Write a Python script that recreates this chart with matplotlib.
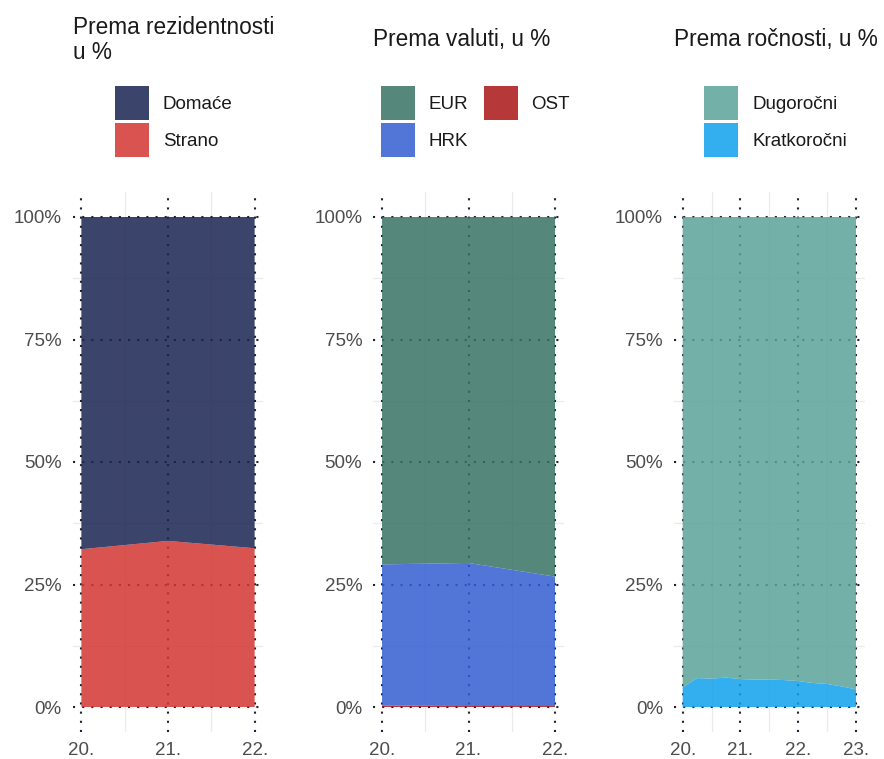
import matplotlib
matplotlib.use("Agg")
import matplotlib.pyplot as plt
from matplotlib.patches import Patch
from matplotlib.transforms import Bbox, TransformedBbox

plt.rcParams['font.family'] = ['Liberation Sans', 'DejaVu Sans']

# ---------------- data ----------------
years_a = [20, 21, 22]
year_labels_a = ["20.", "21.", "22."]
strano = [32.2, 33.9, 32.4]
domace = [67.8, 66.1, 67.6]

years_b = [20, 21, 22]
ost = [0.3, 0.2, 0.2]
hrk = [28.8, 29.2, 26.4]
eur = [70.9, 70.6, 73.4]

years_c = [20.0, 20.25, 20.5, 20.75, 21.0, 21.25, 21.5, 21.75, 22.0, 22.25, 22.5, 22.75, 23.0]
year_labels_c = ["20.", "21.", "22.", "23."]
kratko = [4.0, 5.9, 5.8, 6.0, 5.7, 5.6, 5.6, 5.5, 5.3, 4.9, 4.7, 4.2, 3.6]
dugo = [96.0, 94.1, 94.2, 94.0, 94.3, 94.4, 94.4, 94.5, 94.7, 95.1, 95.3, 95.8, 96.4]

y_ticks = [0, 25, 50, 75, 100]
y_tick_labels = ["0%", "25%", "50%", "75%", "100%"]

# ---------------- style ----------------
ALPHA = 0.85
C_DOMACE = "#192350"
C_STRANO = "#D33531"
C_EUR = "#377363"
C_HRK = "#325ED2"
C_OST = "#A91515"
C_DUGO = "#5BA298"
C_KRATKO = "#0FA0ED"
GRID_MAJ = "#1E2333"
GRID_MIN = "#EBEBEB"
TICK_COL = "#4D4D4D"
TXT_COL = "#1A1A1A"

W, H = 884, 759
fig = plt.figure(figsize=(W / 100, H / 100), dpi=100)

def px_axes(left, right, top, bottom):
    return fig.add_axes([left / W, 1 - bottom / H, (right - left) / W, (bottom - top) / H])

ax1 = px_axes(72.7, 263.3, 192.5, 731.5)
ax2 = px_axes(373.4, 563.7, 192.5, 731.5)
ax3 = px_axes(674.0, 864.7, 192.5, 731.5)

def style_axes(ax, xmin, xmax, xticks, xlabels, xminor):
    ax.set_xlim(xmin - 0.05 * (xmax - xmin), xmax + 0.05 * (xmax - xmin))
    ax.set_ylim(-5, 105)
    for s in ax.spines.values():
        s.set_visible(False)
    ax.set_facecolor("none")
    for yv in [12.5, 37.5, 62.5, 87.5]:
        ax.axhline(yv, color=GRID_MIN, lw=0.9, zorder=0)
    for xv in xminor:
        ax.axvline(xv, color=GRID_MIN, lw=0.9, zorder=0)
    for yv in y_ticks:
        ax.axhline(yv, color=GRID_MAJ, lw=1.5, ls=(0, (1, 3.4)), zorder=1)
    for xv in xticks:
        ax.axvline(xv, color=GRID_MAJ, lw=1.5, ls=(0, (1, 3.4)), zorder=1)
    ax.set_xticks(xticks)
    ax.set_xticklabels(xlabels)
    ax.set_yticks(y_ticks)
    ax.set_yticklabels(y_tick_labels)
    ax.tick_params(length=0, labelsize=13.5, labelcolor=TICK_COL)
    ax.tick_params(axis='y', pad=8)
    ax.tick_params(axis='x', pad=7.5)

style_axes(ax1, 20, 22, years_a, year_labels_a, [20.5, 21.5])
style_axes(ax2, 20, 22, years_b, year_labels_a, [20.5, 21.5])
style_axes(ax3, 20, 23, [20, 21, 22, 23], year_labels_c, [20.5, 21.5, 22.5])

ax1.stackplot(years_a, strano, domace, colors=[C_STRANO, C_DOMACE], alpha=ALPHA, lw=0, zorder=2)
ax2.stackplot(years_b, ost, hrk, eur, colors=[C_OST, C_HRK, C_EUR], alpha=ALPHA, lw=0, zorder=2)
ax3.stackplot(years_c, kratko, dugo, colors=[C_KRATKO, C_DUGO], alpha=ALPHA, lw=0, zorder=2)

# ---------------- titles ----------------
TITLE_FS = 16.3
t1 = fig.text(73 / W, 1 - 16 / H, "Prema rezidentnosti,\nu %", fontsize=TITLE_FS, color=TXT_COL,
              ha="left", va="top", linespacing=1.13, clip_on=True)
t1.set_clip_box(TransformedBbox(Bbox([[0, 0], [274 / W, 1]]), fig.transFigure))
fig.text(373.4 / W, 1 - 28 / H, "Prema valuti, u %", fontsize=TITLE_FS, color=TXT_COL, ha="left", va="top")
fig.text(674 / W, 1 - 28 / H, "Prema ročnosti, u %", fontsize=TITLE_FS, color=TXT_COL, ha="left", va="top")

# ---------------- legends ----------------
LEG_FS = 13.5
fs_px = LEG_FS * 100 / 72
key_px = 34
hh = (key_px / fs_px - 0.245) / 0.65
common = dict(frameon=False, fontsize=LEG_FS, handlelength=key_px / fs_px, handleheight=hh,
              labelspacing=3 / fs_px, handletextpad=14 / fs_px, borderpad=0, borderaxespad=0,
              columnspacing=15 / fs_px, loc="upper left")

def leg_handles(names, cols):
    return [Patch(facecolor=c, alpha=ALPHA, lw=0, label=n) for n, c in zip(names, cols)]

l1 = fig.legend(handles=leg_handles(["Domaće", "Strano"], [C_DOMACE, C_STRANO]),
                bbox_to_anchor=(115 / W, 1 - 86 / H), **common)
l2 = fig.legend(handles=leg_handles(["EUR", "HRK", "OST"], [C_EUR, C_HRK, C_OST]), ncol=2,
                bbox_to_anchor=(381 / W, 1 - 86 / H), **common)
l3 = fig.legend(handles=leg_handles(["Dugoročni", "Kratkoročni"], [C_DUGO, C_KRATKO]),
                bbox_to_anchor=(704 / W, 1 - 86 / H), **common)
for lg in (l1, l2, l3):
    for txt in lg.get_texts():
        txt.set_color(TXT_COL)

fig.savefig("out.png", dpi=100, facecolor="white")
